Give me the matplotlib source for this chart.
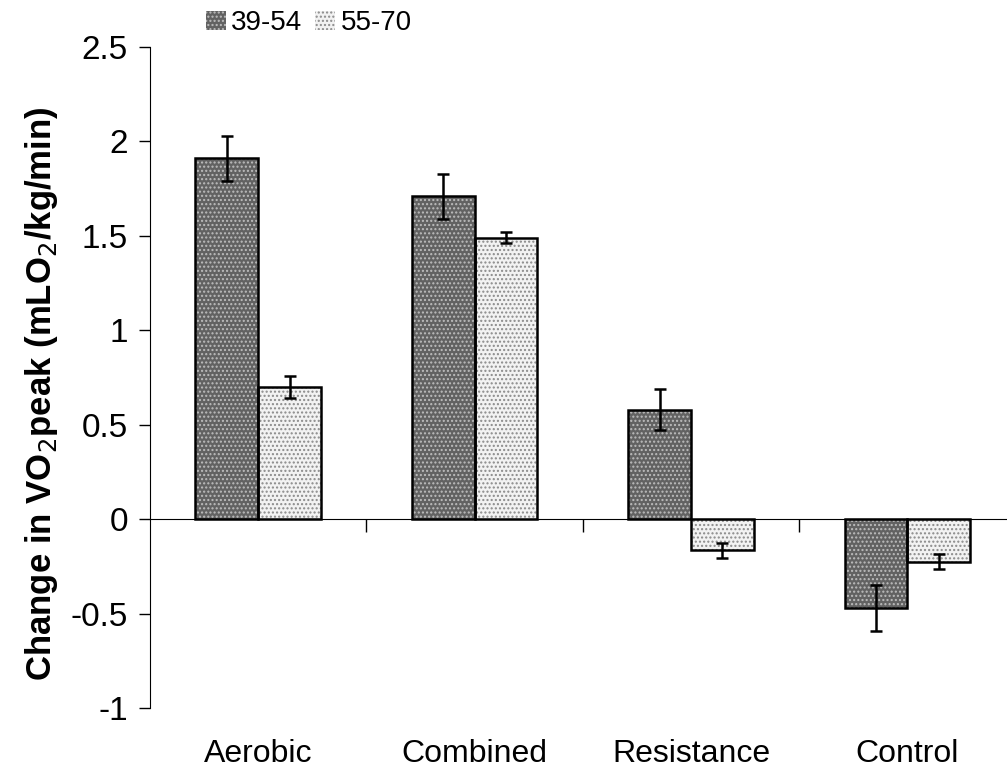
import matplotlib.pyplot as plt
import numpy as np

plt.rcParams['font.family'] = ['Liberation Sans', 'DejaVu Sans']

categories = ["Aerobic", "Combined", "Resistance", "Control"]
groups = ["39-54", "55-70"]
young = [1.91, 1.71, 0.58, -0.47]
young_err = [0.12, 0.12, 0.11, 0.12]
old = [0.70, 1.49, -0.165, -0.225]
old_err = [0.06, 0.03, 0.04, 0.04]

x = np.arange(len(categories))
w = 0.29

fig = plt.figure(figsize=(10.07, 7.72), dpi=100)
ax = fig.add_axes([0.149, 0.083, 0.851, 0.856])

# textured fill first, then the black outline on top
ax.bar(x - w / 2, young, w, color="#626262", edgecolor="#bdbdbd", hatch="....", linewidth=0)
ax.bar(x + w / 2, old, w, color="#f2f2f2", edgecolor="#8a8a8a", hatch="....", linewidth=0)
ax.bar(x - w / 2, young, w, fill=False, edgecolor="black", linewidth=1.8)
ax.bar(x + w / 2, old, w, fill=False, edgecolor="black", linewidth=1.8)
ax.errorbar(x - w / 2, young, yerr=young_err, fmt="none", ecolor="black", elinewidth=1.8, capsize=4.5, capthick=1.8)
ax.errorbar(x + w / 2, old, yerr=old_err, fmt="none", ecolor="black", elinewidth=1.8, capsize=4.5, capthick=1.8)

ax.set_xlim(-0.5, 3.46)
ax.set_ylim(-1, 2.5)
ax.set_yticks([-1, -0.5, 0, 0.5, 1, 1.5, 2, 2.5])
ax.set_yticklabels(["-1", "-0.5", "0", "0.5", "1", "1.5", "2", "2.5"], fontsize=24)
ax.tick_params(axis="y", direction="out", length=8, width=1, pad=8)

ax.spines["top"].set_visible(False)
ax.spines["right"].set_visible(False)
ax.spines["bottom"].set_position(("data", 0))
ax.set_xticks(np.arange(0.5, 3.5, 1))
ax.set_xticklabels([])
ax.tick_params(axis="x", direction="out", length=9, width=1)

for i, c in enumerate(categories):
    ax.text(i, -1.245, c, ha="center", va="center", fontsize=23)

ax.set_ylabel("Change in VO$_2$peak (mLO$_2$/kg/min)", fontsize=25, fontweight="bold")
ax.yaxis.set_label_coords(-0.105, 0.475)

h1 = plt.Rectangle((0, 0), 1, 1, facecolor="#626262", edgecolor="#bdbdbd", hatch="....", linewidth=0)
h2 = plt.Rectangle((0, 0), 1, 1, facecolor="#f2f2f2", edgecolor="#8a8a8a", hatch="....", linewidth=0)
fig.legend([h1, h2], groups, loc="upper left", bbox_to_anchor=(0.185, 1.012), ncol=2, frameon=False,
           fontsize=20, handlelength=0.72, handleheight=0.72, handletextpad=0.2, columnspacing=0.45,
           borderpad=0.2)

fig.savefig("out.png", dpi=100)
